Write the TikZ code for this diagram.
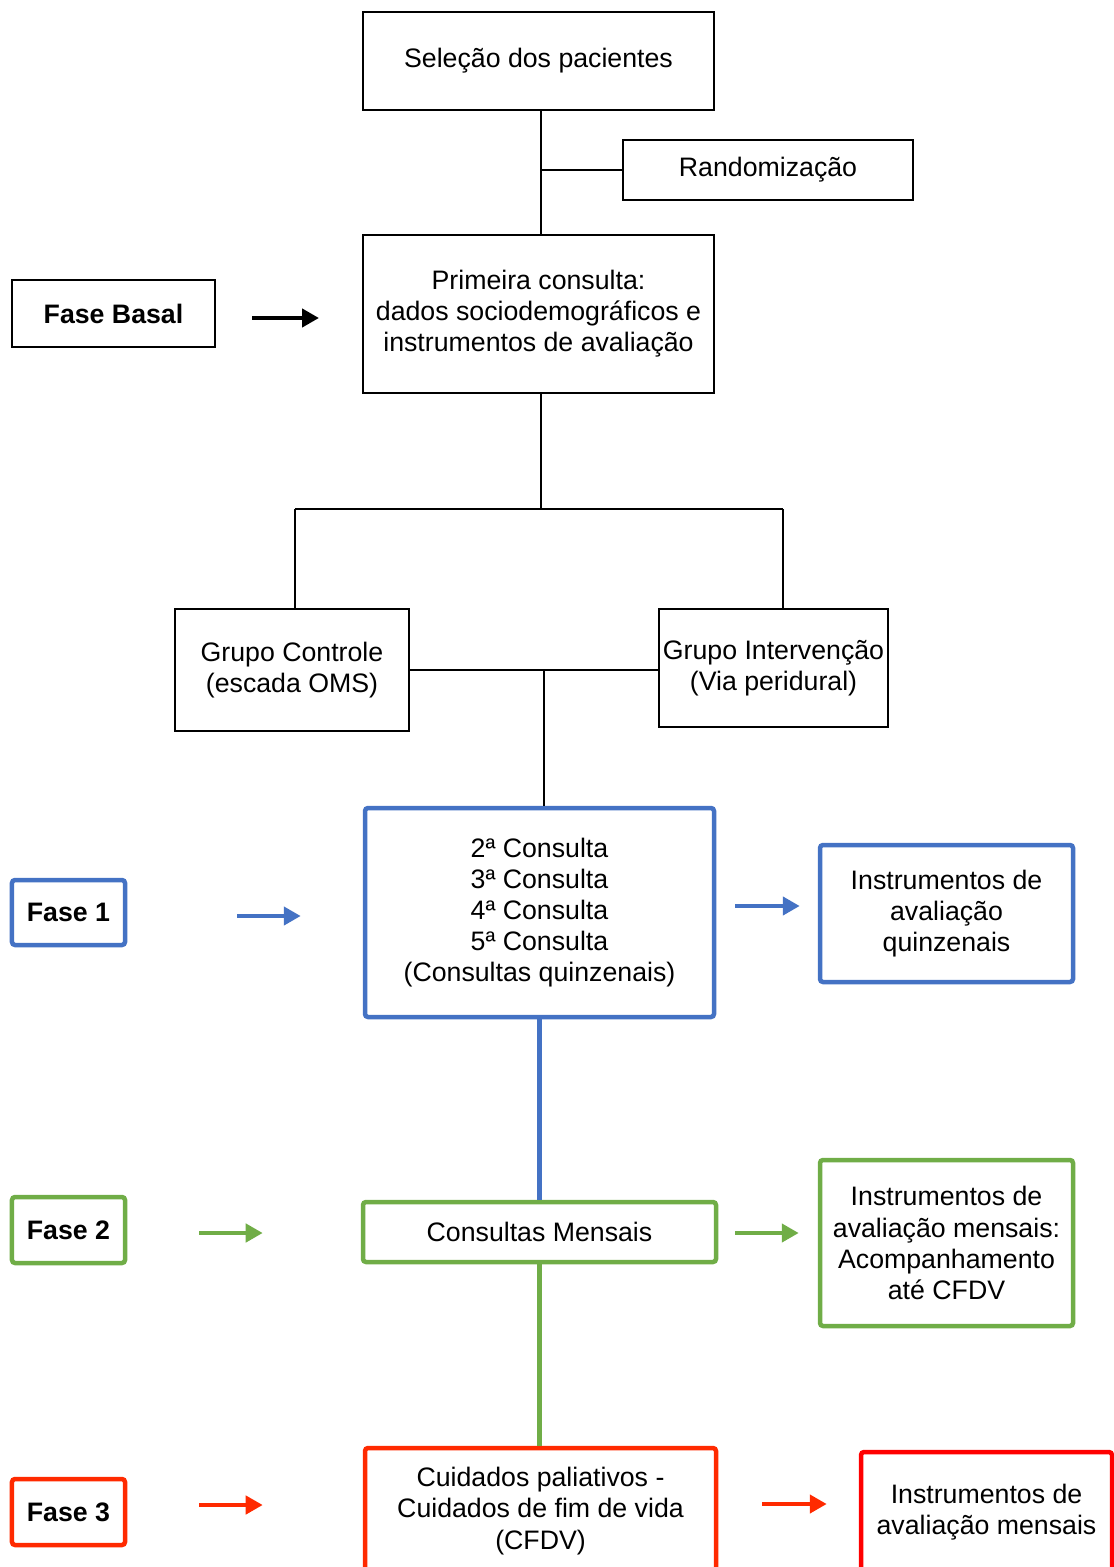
\documentclass[tikz,border=0pt]{standalone}
\usepackage{fontspec}
\setmainfont{Liberation Sans}
\usetikzlibrary{arrows.meta,positioning,calc}
\definecolor{fsblue}{HTML}{4472C4}
\definecolor{fsgreen}{HTML}{70AD47}
\definecolor{fsred}{HTML}{FF2A00}
\definecolor{fsbright}{HTML}{FF0000}
\tikzset{
  bx/.style   = {rectangle, draw=black, line width=0.4mm, fill=white,
                 inner sep=0pt, align=center,
                 font=\fontsize{15.2}{17.7}\selectfont},
  ph/.style   = {bx, line width=0.9mm, rounded corners=0.6mm},
  fase/.style = {bx, line width=0.9mm, rounded corners=0.6mm,
                 font=\fontsize{15.2}{17.7}\selectfont\bfseries},
  ln/.style   = {draw=black, line width=0.4mm},
  lnc/.style  = {line width=0.9mm},
  ar/.style   = {-{Triangle[length=3.4mm, width=3.6mm]}, line width=0.9mm},
}
\begin{document}
\begin{tikzpicture}[x=0.2mm, y=-0.2mm]
  \useasboundingbox (0,0) rectangle (1113,1567);
  % top part
  \node[bx, minimum width=70.2mm, minimum height=19.6mm] (sel) at (538.5,61) {Seleção dos pacientes};
  \node[bx, minimum width=58mm, minimum height=12mm] (rand) at (768,170) {Randomização};
  \node[bx, minimum width=70.2mm, minimum height=31.6mm] (prim) at (538.5,314)
        {Primeira consulta:\\dados sociodemográficos e\\instrumentos de avaliação};
  \node[fase, line width=0.4mm, rounded corners=0pt, minimum width=40.6mm, minimum height=13.4mm] (fb) at (113.5,313.5) {Fase Basal};
  \node[bx, minimum width=46.8mm, minimum height=24.4mm] (gc) at (292,670) {Grupo Controle\\(escada OMS)};
  \node[bx, minimum width=45.8mm, minimum height=23.6mm] (gi) at (773.5,668) {Grupo Intervenção\\(Via peridural)};
  % phases
  \node[ph, draw=fsblue, minimum width=69.8mm, minimum height=41.8mm] (quin) at (539.5,912.5)
        {2ª Consulta\\3ª Consulta\\4ª Consulta\\5ª Consulta\\(Consultas quinzenais)};
  \node[fase, draw=fsblue, minimum width=22.6mm, minimum height=13mm] (f1) at (68.5,912.5) {Fase 1};
  \node[ph, draw=fsblue, minimum width=50.6mm, minimum height=27.4mm] (iq) at (946.5,913.5)
        {Instrumentos de\\avaliação\\quinzenais};
  \node[ph, draw=fsgreen, minimum width=70.6mm, minimum height=12mm] (mens) at (539.5,1232) {Consultas Mensais};
  \node[fase, draw=fsgreen, minimum width=22.6mm, minimum height=13.2mm] (f2) at (68.5,1230) {Fase 2};
  \node[ph, draw=fsgreen, minimum width=50.6mm, minimum height=33.2mm] (im) at (946.5,1243)
        {Instrumentos de\\avaliação mensais:\\Acompanhamento\\até CFDV};
  \node[ph, draw=fsred, minimum width=70.2mm, minimum height=25.2mm] (cfdv) at (540.5,1511)
        {Cuidados paliativos -\\Cuidados de fim de vida\\(CFDV)};
  \node[fase, draw=fsred, minimum width=22.6mm, minimum height=13.2mm] (f3) at (68.5,1512) {Fase 3};
  \node[ph, draw=fsbright, minimum width=50.2mm, minimum height=24mm] (ir) at (986.5,1512)
        {Instrumentos de\\avaliação mensais};
  % connectors
  \coordinate (split) at (541,509);
  \coordinate (jl) at (295,509);
  \coordinate (jr) at (783,509);
  \coordinate (mid) at (544,670);
  \draw[ln] (sel.south -| split) -- (prim.north -| split);
  \draw[ln] (rand.west) -- (rand.west -| split);
  \draw[ln] (prim.south -| split) -- (split);
  \draw[ln] (jl) -- (jr);
  \draw[ln] (jl) -- (jl |- gc.north);
  \draw[ln] (jr) -- (jr |- gi.north);
  \draw[ln] (gc.east) -- (gc.east -| gi.west);
  \draw[ln] (mid) -- (mid |- quin.north);
  \draw[lnc, fsblue] (quin.south) -- (quin.south |- mens.north);
  \draw[lnc, fsgreen] (mens.south) -- (mens.south |- cfdv.north);
  % arrows
  \draw[ar, black, shorten <=7.2mm, shorten >=8.6mm] ([yshift=-0.9mm]fb.east) -- ([yshift=-0.9mm]fb.east -| prim.west);
  \draw[ar, fsblue, shorten <=22mm, shorten >=12.4mm] ([yshift=-0.7mm]f1.east) -- ([yshift=-0.7mm]f1.east -| quin.west);
  \draw[ar, fsblue, shorten <=3.8mm, shorten >=3.6mm] ([yshift=1.3mm]quin.east) -- ([yshift=1.3mm]quin.east -| iq.west);
  \draw[ar, fsgreen, shorten <=14.4mm, shorten >=19.6mm] ([yshift=-0.6mm]f2.east) -- ([yshift=-0.6mm]f2.east -| mens.west);
  \draw[ar, fsgreen, shorten <=3.4mm, shorten >=3.8mm] ([yshift=-0.2mm]mens.east) -- ([yshift=-0.2mm]mens.east -| im.west);
  \draw[ar, fsred, shorten <=14.4mm, shorten >=20mm] ([yshift=1.4mm]f3.east) -- ([yshift=1.4mm]f3.east -| cfdv.west);
  \draw[ar, fsred, shorten <=8.8mm, shorten >=6.4mm] ([yshift=1.4mm]cfdv.east) -- ([yshift=1.4mm]cfdv.east -| ir.west);
\end{tikzpicture}
\end{document}
